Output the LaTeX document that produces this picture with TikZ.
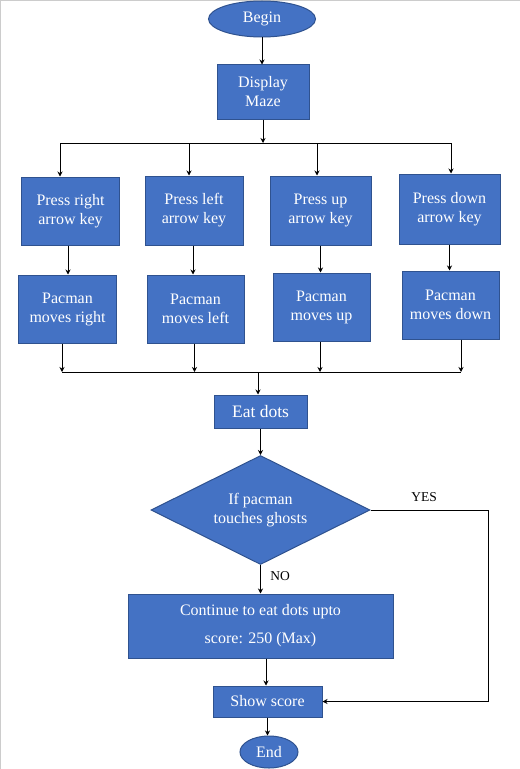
\documentclass[tikz,border=0pt]{standalone}
\usepackage{fontspec}
\setmainfont{Liberation Serif}
\usetikzlibrary{shapes.geometric,arrows.meta}
\definecolor{boxblue}{HTML}{4472C4}
\definecolor{boxline}{HTML}{2F528F}
\begin{document}
\begin{tikzpicture}[x=1bp,y=-1bp,
  base/.style={draw=boxline, fill=boxblue, text=white, align=center, inner sep=0pt, line width=1bp,
    font=\fontsize{16bp}{19bp}\selectfont},
  procbox/.style={base, rectangle},
  termbox/.style={base, ellipse},
  decbox/.style={base, diamond, aspect=2.01},
  arr/.style={-{Stealth[length=5bp,width=5bp]}, line width=0.9bp, black},
  ln/.style={line width=0.9bp, black},
  lbl/.style={font=\fontsize{13.5bp}{16bp}\selectfont, inner sep=0pt}
]
\useasboundingbox (0,0) rectangle (520,769);
\fill[white] (0,0) rectangle (520,769);
\draw[line width=1.5bp, black!20] (0.75,769) -- (0.75,0.75) -- (520,0.75);

\node[termbox, minimum width=107bp, minimum height=36bp] (begin) at (262,19) {Begin};
\node[procbox, minimum width=92bp, minimum height=54bp] (disp) at (263,92) {Display\\Maze};

\node[procbox, minimum width=97bp, minimum height=68bp] (p1) at (70.5,211) {Press right\\arrow key};
\node[procbox, minimum width=98bp, minimum height=69bp] (p2) at (194,210.5) {Press left\\arrow key};
\node[procbox, minimum width=101bp, minimum height=69bp] (p3) at (320.5,210.5) {Press up\\arrow key};
\node[procbox, minimum width=101bp, minimum height=70bp] (p4) at (449.5,209) {Press down\\arrow key};

\node[procbox, minimum width=97bp, minimum height=68bp] (m1) at (67.5,309) {Pacman\\moves right};
\node[procbox, minimum width=97bp, minimum height=68bp] (m2) at (195.5,309) {Pacman\\moves left};
\node[procbox, minimum width=97bp, minimum height=68bp] (m3) at (321.5,307) {Pacman\\moves up};
\node[procbox, minimum width=97bp, minimum height=68bp] (m4) at (450.5,305) {Pacman\\moves down};

\node[procbox, minimum width=93bp, minimum height=33bp, font=\fontsize{17.5bp}{20bp}\selectfont] (eat) at (260.5,411.5) {Eat dots};
\node[decbox, minimum width=219bp, minimum height=109bp] (dec) at (260.5,510) {If pacman\\touches ghosts};
\node[procbox, minimum width=265bp, minimum height=64bp, font=\fontsize{16bp}{28bp}\selectfont] (cont) at (260.5,626) {Continue to eat dots upto\\score: 250 (Max)};
\node[procbox, minimum width=109bp, minimum height=31bp] (show) at (267.5,701.5) {Show score};
\node[termbox, minimum width=58bp, minimum height=32bp] (end) at (269,752) {End};

\node[lbl] (yes) at (424,497) {YES};
\node[lbl] (no) at (280,576) {NO};

% connectors
\draw[arr] (begin.south) -- (begin.south |- disp.north);
\coordinate (split) at (263,143);
\coordinate (s1) at (60,143);
\coordinate (s2) at (189,143);
\coordinate (s3) at (317,143);
\coordinate (s4) at (451,143);
\draw[arr] (disp.south) -- (split);
\draw[ln] (s1) -- (s4);
\draw[arr] (s1) -- (s1 |- p1.north);
\draw[arr] (s2) -- (s2 |- p2.north);
\draw[arr] (s3) -- (s3 |- p3.north);
\draw[arr] (s4) -- (s4 |- p4.north);

\draw[arr] ([xshift=-2.5bp]p1.south) -- ([xshift=-2.5bp]p1.south |- m1.north);
\draw[arr] ([xshift=-1bp]p2.south) -- ([xshift=-1bp]p2.south |- m2.north);
\draw[arr] (p3.south) -- (p3.south |- m3.north);
\draw[arr] (p4.south) -- (p4.south |- m4.north);

\coordinate (j1) at (62,372);
\coordinate (j2) at (194.5,372);
\coordinate (j3) at (320,372);
\coordinate (j4) at (461,372);
\coordinate (jm) at (258,372);
\draw[arr] (m1.south -| j1) -- (j1);
\draw[arr] (m2.south -| j2) -- (j2);
\draw[arr] (m3.south -| j3) -- (j3);
\draw[arr] (m4.south -| j4) -- (j4);
\draw[ln] (j1) -- (j4);
\draw[arr] (jm) -- (jm |- eat.north);

\draw[arr] (eat.south) -- (dec.north);
\draw[arr] (dec.south) -- (cont.north);
\coordinate (yr) at (488,510);
\draw[arr] (dec.east) -- (yr) |- (show.east);
\draw[arr] (cont.south -| 266,0) -- (266,0 |- show.north);
\draw[arr] (show.south) -- (show.south |- end.north);
\end{tikzpicture}
\end{document}
